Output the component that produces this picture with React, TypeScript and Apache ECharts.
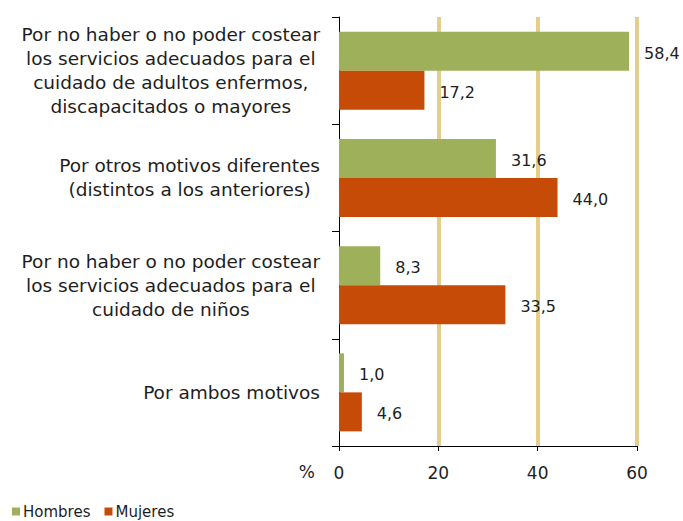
import React, { useEffect, useRef } from "react";
import * as echarts from "echarts";

const categories = [
  "Por no haber o no poder costear\nlos servicios adecuados para el\ncuidado de adultos enfermos,\ndiscapacitados o mayores",
  "Por otros motivos diferentes\n(distintos a los anteriores)",
  "Por no haber o no poder costear\nlos servicios adecuados para el\ncuidado de niños",
  "Por ambos motivos",
];
const hombres = [58.4, 31.6, 8.3, 1.0];
const mujeres = [17.2, 44.0, 33.5, 4.6];
const xTicks = [0, 20, 40, 60];

const FONT = "DejaVu Sans";
const TXT = "#1e1e1e";

export default function App() {
  const ref = useRef<HTMLDivElement>(null);
  useEffect(() => {
    if (!ref.current) return;
    const chart = echarts.init(ref.current, null, { renderer: "svg" });
    const fmt = (p: any) => Number(p.value).toFixed(1).replace(".", ",");
    chart.setOption({
      animation: false,
      backgroundColor: "#ffffff",
      grid: { left: 339, right: 46, top: 17, bottom: 75, containLabel: false },
      legend: {
        data: ["Hombres", "Mujeres"],
        left: 12,
        top: 504,
        padding: 0,
        icon: "rect",
        itemWidth: 8,
        itemHeight: 8,
        itemGap: 14,
        textStyle: { fontFamily: FONT, fontSize: 15, lineHeight: 15, color: TXT, padding: [0, 0, 0, -2] },
      },
      xAxis: {
        type: "value",
        min: xTicks[0],
        max: xTicks[xTicks.length - 1],
        interval: 20,
        name: "%",
        nameLocation: "start",
        nameGap: 24,
        nameTextStyle: {
          fontFamily: FONT,
          fontSize: 17,
          color: TXT,
          verticalAlign: "top",
          lineHeight: 20,
          padding: [16, 0, 0, 0],
        },
        axisLine: { show: true, lineStyle: { color: "#000", width: 1 } },
        axisTick: { show: true, length: 5, lineStyle: { color: "#000" } },
        axisLabel: { fontFamily: FONT, fontSize: 17, color: TXT, margin: 18 },
        splitLine: {
          show: true,
          showMinLine: false,
          lineStyle: { color: "#E3CF8B", width: 4 },
        },
      },
      yAxis: {
        type: "category",
        data: categories,
        inverse: true,
        axisLine: { show: true, lineStyle: { color: "#000", width: 1 } },
        axisTick: { show: true, length: 7, lineStyle: { color: "#000" } },
        axisLabel: {
          margin: 19,
          formatter: (v: string) =>
            v
              .split("\n")
              .map((l) => "{c|" + l + "}")
              .join("\n"),
          rich: {
            c: {
              align: "center",
              fontFamily: FONT,
              fontSize: 18.5,
              lineHeight: 24,
              color: TXT,
            },
          },
        },
      },
      series: [
        {
          name: "Hombres",
          type: "bar",
          data: hombres,
          barWidth: 39,
          barGap: "0%",
          itemStyle: { color: "#9EB05A" },
          label: {
            show: true,
            position: "right",
            distance: 15,
            offset: [0, 2],
            formatter: fmt,
            fontFamily: FONT,
            fontSize: 16,
            color: TXT,
          },
        },
        {
          name: "Mujeres",
          type: "bar",
          data: mujeres,
          barWidth: 39,
          barGap: "0%",
          itemStyle: { color: "#C64B06" },
          label: {
            show: true,
            position: "right",
            distance: 15,
            offset: [0, 2],
            formatter: fmt,
            fontFamily: FONT,
            fontSize: 16,
            color: TXT,
          },
        },
      ],
    });
    return () => chart.dispose();
  }, []);
  return (
    <div
      ref={ref}
      style={{ position: "fixed", left: 0, top: 0, width: 683, height: 521, background: "#fff" }}
    />
  );
}
